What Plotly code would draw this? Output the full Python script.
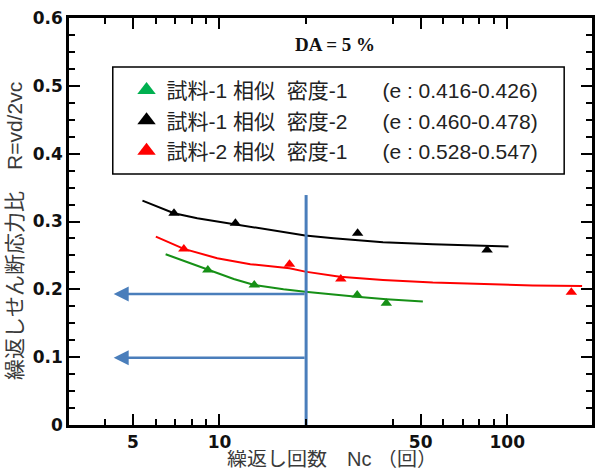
import math
import plotly.graph_objects as go

# ---------------- data ----------------
black_N = [6.95, 11.36, 30.2, 85.1]
black_R = [0.312, 0.2975, 0.2827, 0.258]
red_N = [7.52, 17.51, 26.4, 167.0]
red_R = [0.2596, 0.237, 0.2153, 0.1957]
green_N = [9.11, 13.21, 30.1, 38.0]
green_R = [0.2286, 0.2065, 0.1917, 0.1795]

black_fit_N = [5.40, 6.95, 8.37, 11.36, 15.0, 19.85, 24.9, 37.0, 55.1, 71.9, 101.0]
black_fit_R = [0.3308, 0.3122, 0.3049, 0.296, 0.2876, 0.2792, 0.2754, 0.2695, 0.2665, 0.2645, 0.263]
red_fit_N = [6.01, 7.52, 9.82, 12.80, 17.51, 19.85, 26.2, 37.0, 55.1, 82.1, 122.4, 182.0]
red_fit_R = [0.2777, 0.2596, 0.2459, 0.237, 0.2311, 0.2261, 0.2187, 0.2139, 0.2099, 0.2075, 0.2058, 0.2048]
green_fit_N = [6.50, 7.52, 9.11, 11.21, 13.21, 16.69, 19.85, 24.22, 30.0, 38.0, 50.9]
green_fit_R = [0.2518, 0.2419, 0.2286, 0.2153, 0.2065, 0.2001, 0.1966, 0.1925, 0.189, 0.1855, 0.182]

NB = "\u00a0"
legend_labels = [
    "試料-1" + NB + "相似" + NB * 2 + "密度-1" + NB * 6 + "(e" + NB + ":" + NB + "0.416-0.426)",
    "試料-1" + NB + "相似" + NB * 2 + "密度-2" + NB * 6 + "(e" + NB + ":" + NB + "0.460-0.478)",
    "試料-2" + NB + "相似" + NB * 2 + "密度-1" + NB * 6 + "(e" + NB + ":" + NB + "0.528-0.547)",
]

guide_N = [20, 20]
guide_R = [0.339, 0.0]
arrow_R = [0.193, 0.099]
arrow_tip_N = 4.29
arrow_start_N = 20

x_major = [5, 10, 50, 100]
x_minor = [4, 6, 7, 8, 9, 20, 40, 60, 70, 80, 90]

BLUE = "#4a7ebb"
GREEN_PLOT = "#169016"
GREEN_LEG = "#00b050"
RED = "#ff0000"
BLACK = "#000000"
JP_FONT = "Liberation Sans, Noto Sans CJK JP"

fig = go.Figure()

# fitted curves
for n, r, c in [(black_fit_N, black_fit_R, BLACK), (red_fit_N, red_fit_R, RED), (green_fit_N, green_fit_R, GREEN_PLOT)]:
    fig.add_trace(go.Scatter(x=n, y=r, mode="lines", line=dict(color=c, width=2),
                             showlegend=False, hoverinfo="skip"))

# data points
for n, r, c in [(black_N, black_R, BLACK), (red_N, red_R, RED), (green_N, green_R, GREEN_PLOT)]:
    fig.add_trace(go.Scatter(x=n, y=r, mode="markers",
                             marker=dict(symbol="triangle-up", size=10, color=c),
                             showlegend=False))

# vertical guide line
fig.add_trace(go.Scatter(x=guide_N, y=guide_R, mode="lines", line=dict(color=BLUE, width=3),
                         showlegend=False, hoverinfo="skip"))

# legend-only entries
for lab, c in zip(legend_labels, [GREEN_LEG, BLACK, RED]):
    fig.add_trace(go.Scatter(x=[None], y=[None], mode="markers", name=lab,
                             marker=dict(symbol="triangle-up", size=16, color=c)))

# arrows
for r in arrow_R:
    fig.add_annotation(x=math.log10(arrow_tip_N), y=r, ax=math.log10(arrow_start_N), ay=r,
                       xref="x", yref="y", axref="x", ayref="y", text="",
                       showarrow=True, arrowhead=2, arrowsize=1.2, arrowwidth=2.5,
                       arrowcolor=BLUE)

# title DA = 5 %
fig.add_annotation(x=0.508, y=0.9337, xref="paper", yref="paper", text="DA = 5 %",
                   xanchor="center", yanchor="middle", showarrow=False,
                   font=dict(family="Liberation Serif", size=19, color="#111", weight="bold"))

# axis titles as annotations
fig.add_annotation(x=-0.103, y=0.477, xref="paper", yref="paper",
                   xanchor="center", yanchor="middle",
                   text="繰返しせん断応力比　R=vd/2vc", textangle=-90, showarrow=False,
                   font=dict(family=JP_FONT, size=21, color="#3a3a3a"))
fig.add_annotation(x=0.502, y=-0.0835, xref="paper", yref="paper",
                   xanchor="center", yanchor="middle", height=18, valign="middle",
                   text="繰返し回数　Nc" + NB + "（回）", showarrow=False,
                   font=dict(family=JP_FONT, size=20, color="#3a3a3a"))

# legend frame
fig.add_shape(type="rect", xref="paper", yref="paper", x0=0.0837, x1=0.9468, y0=0.6167, y1=0.8796,
              line=dict(color="black", width=1.5), fillcolor="rgba(0,0,0,0)", layer="above")

tickfont = dict(family="DejaVu Sans", size=17, color="#111", weight="bold")

fig.update_layout(
    width=596, height=470,
    margin=dict(l=69, r=1, t=18, b=45),
    paper_bgcolor="white", plot_bgcolor="white",
    legend=dict(x=0.110, y=0.8725, xanchor="left", yanchor="top",
                borderwidth=0, bgcolor="rgba(0,0,0,0)", itemwidth=30,
                font=dict(family=JP_FONT, size=21, color="#222")),
    xaxis=dict(type="log", range=[math.log10(3), math.log10(197)],
               tickmode="array", tickvals=x_major, ticktext=[str(v) for v in x_major],
               ticks="inside", ticklen=11, tickwidth=2, tickcolor="black",
               showline=True, linecolor="black", linewidth=2.5, mirror="allticks",
               showgrid=False, zeroline=False, tickfont=tickfont,
               minor=dict(tickmode="array", tickvals=x_minor, ticks="inside", ticklen=6,
                          tickwidth=2, tickcolor="black", showgrid=False)),
    yaxis=dict(range=[0, 0.6], dtick=0.1, tick0=0,
               ticks="inside", ticklen=11, tickwidth=2, tickcolor="black",
               showline=True, linecolor="black", linewidth=2.5, mirror="allticks",
               showgrid=False, zeroline=False, tickfont=tickfont,
               minor=dict(dtick=0.025, ticks="inside", ticklen=6, tickwidth=2,
                          tickcolor="black", showgrid=False)),
)

fig.write_html("out.html")
